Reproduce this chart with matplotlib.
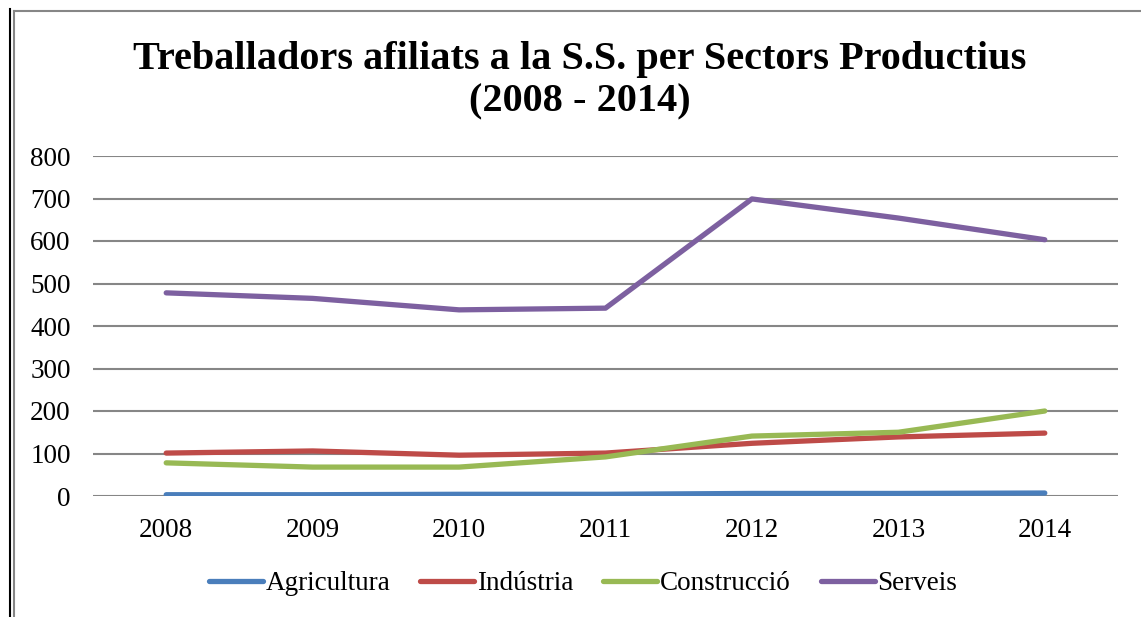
import matplotlib.pyplot as plt
from matplotlib.lines import Line2D

years = ["2008", "2009", "2010", "2011", "2012", "2013", "2014"]
agricultura = [3, 3, 4, 4, 6, 6, 7]
industria = [101, 106, 96, 101, 124, 139, 148]
construccio = [78, 68, 68, 92, 141, 150, 200]
serveis = [478, 465, 438, 442, 699, 654, 603]
series_names = ["Agricultura", "Indústria", "Construcció", "Serveis"]
colors = ["#4A7EBB", "#BE4B48", "#98B954", "#7D60A0"]

plt.rcParams["font.family"] = ["Liberation Serif", "DejaVu Serif"]

W, H = 1141, 617
fig = plt.figure(figsize=(W / 100, H / 100), dpi=100)
ax = fig.add_axes([93 / W, 1 - 496 / H, (1118 - 93) / W, (496 - 156) / H])

x = list(range(len(years)))
for vals, name, c in zip([agricultura, industria, construccio, serveis], series_names, colors):
    ax.plot(x, vals, color=c, lw=3.8, solid_capstyle="round", label=name)

ax.set_xlim(-0.5, len(years) - 0.5)
ax.set_ylim(0, 800)
ax.set_yticks(range(0, 801, 100))
ax.set_xticks(x)
ax.set_xticklabels(years)
ax.yaxis.grid(True, color="#868686", lw=1.5)
ax.set_axisbelow(True)
for s in ax.spines.values():
    s.set_visible(False)
ax.tick_params(length=0, labelsize=19.5)
ax.tick_params(axis="y", pad=16)
ax.tick_params(axis="x", pad=16)

fig.text(580 / W, 1 - 60 / H, "Treballadors afiliats a la S.S. per Sectors Productius",
         ha="center", va="center", fontsize=29, fontweight="bold")
fig.text(580 / W, 1 - 102 / H, "(2008 - 2014)",
         ha="center", va="center", fontsize=29, fontweight="bold")

fig.legend(loc="center", bbox_to_anchor=(583 / W, 1 - 584 / H), ncol=4, frameon=False,
           fontsize=19.5, handlelength=2.0, handletextpad=0.1, columnspacing=1.1)

# chart frame
fig.add_artist(Line2D([10 / W, 10 / W], [0, 1 - 9 / H], color="black", lw=1.5))
fig.add_artist(Line2D([13.5 / W, 13.5 / W], [0, 1 - 11 / H], color="#868686", lw=1.5))
fig.add_artist(Line2D([13.5 / W, 1], [1 - 11 / H, 1 - 11 / H], color="#868686", lw=1.5))

fig.savefig("out.png", dpi=100)
